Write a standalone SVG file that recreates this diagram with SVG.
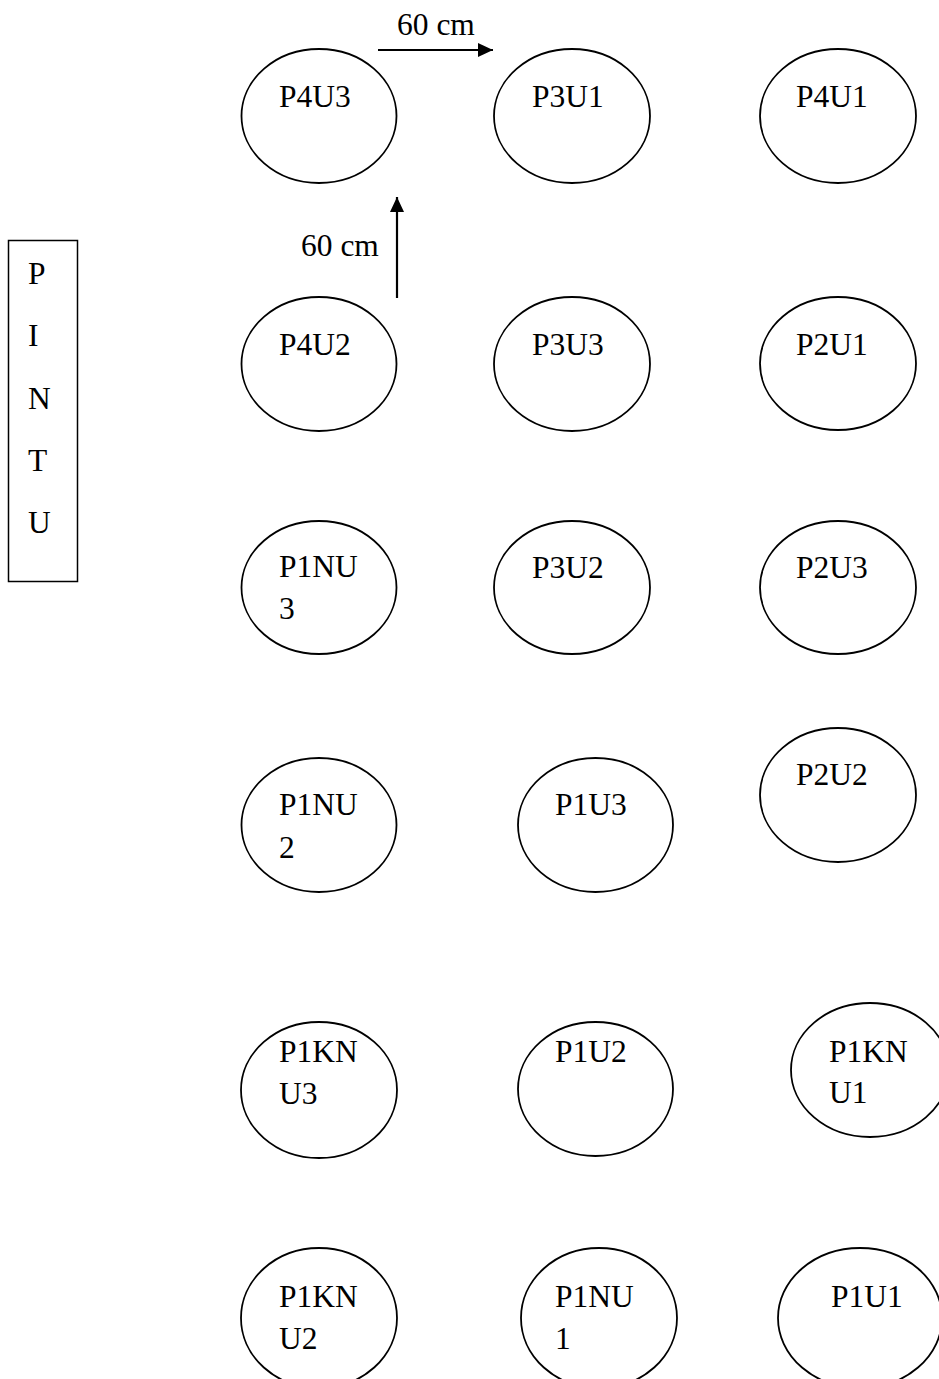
<svg xmlns="http://www.w3.org/2000/svg" width="939" height="1379" viewBox="0 0 939 1379">
<defs>
<style>
.n{fill:#fff;stroke:#000;stroke-width:1.8}
.t{font-family:"Liberation Serif","Times New Roman",serif;font-size:31.5px;fill:#000}
.c{stroke:#000;stroke-width:2.2;fill:none}
</style>
<marker id="ah" viewBox="0 0 15 14" refX="15" refY="7" markerWidth="15" markerHeight="14" markerUnits="userSpaceOnUse" orient="auto">
<path d="M0,0 L15,7 L0,14 Z" fill="#000"/>
</marker>
</defs>
<rect width="939" height="1379" fill="#fff"/>
<g id="pintu">
<rect x="8.5" y="240.5" width="69" height="341" fill="#fff" stroke="#000" stroke-width="1.5"/>
<text class="t" x="28" y="284">P</text>
<text class="t" x="28" y="346">I</text>
<text class="t" x="28" y="409">N</text>
<text class="t" x="28" y="471">T</text>
<text class="t" x="28" y="533">U</text>
</g>
<g id="P4U3"><ellipse class="n" cx="319" cy="116" rx="77.5" ry="67"/><text class="t" x="279" y="107">P4U3</text></g>
<g id="P3U1"><ellipse class="n" cx="572" cy="116" rx="78" ry="67"/><text class="t" x="532" y="107">P3U1</text></g>
<g id="P4U1"><ellipse class="n" cx="838" cy="116" rx="78" ry="67"/><text class="t" x="796" y="107">P4U1</text></g>
<g id="P4U2"><ellipse class="n" cx="319" cy="364" rx="77.5" ry="67"/><text class="t" x="279" y="355">P4U2</text></g>
<g id="P3U3"><ellipse class="n" cx="572" cy="364" rx="78" ry="67"/><text class="t" x="532" y="355">P3U3</text></g>
<g id="P2U1"><ellipse class="n" cx="838" cy="363.5" rx="78" ry="66.5"/><text class="t" x="796" y="355">P2U1</text></g>
<g id="P1NU3"><ellipse class="n" cx="319" cy="587.5" rx="77.5" ry="66.5"/><text class="t" x="279" y="577">P1NU</text><text class="t" x="279" y="619">3</text></g>
<g id="P3U2"><ellipse class="n" cx="572" cy="587.5" rx="78" ry="66.5"/><text class="t" x="532" y="578">P3U2</text></g>
<g id="P2U3"><ellipse class="n" cx="838" cy="587.5" rx="78" ry="66.5"/><text class="t" x="796" y="578">P2U3</text></g>
<g id="P1NU2"><ellipse class="n" cx="319" cy="825" rx="77.5" ry="67"/><text class="t" x="279" y="815">P1NU</text><text class="t" x="279" y="858">2</text></g>
<g id="P1U3"><ellipse class="n" cx="595.5" cy="825" rx="77.5" ry="67"/><text class="t" x="555" y="815">P1U3</text></g>
<g id="P2U2"><ellipse class="n" cx="838" cy="795" rx="78" ry="67"/><text class="t" x="796" y="785">P2U2</text></g>
<g id="P1KNU3"><ellipse class="n" cx="319" cy="1090" rx="78" ry="68"/><text class="t" x="279" y="1062">P1KN</text><text class="t" x="279" y="1104">U3</text></g>
<g id="P1U2"><ellipse class="n" cx="595.5" cy="1089" rx="77.5" ry="67"/><text class="t" x="555" y="1062">P1U2</text></g>
<g id="P1KNU1"><ellipse class="n" cx="870" cy="1070" rx="79" ry="67"/><text class="t" x="829" y="1062">P1KN</text><text class="t" x="829" y="1103">U1</text></g>
<g id="P1KNU2"><ellipse class="n" cx="319" cy="1318" rx="78" ry="70"/><text class="t" x="279" y="1307">P1KN</text><text class="t" x="279" y="1349">U2</text></g>
<g id="P1NU1"><ellipse class="n" cx="599" cy="1318" rx="78" ry="70"/><text class="t" x="555" y="1307">P1NU</text><text class="t" x="555" y="1349">1</text></g>
<g id="P1U1"><ellipse class="n" cx="860" cy="1318" rx="82" ry="70"/><text class="t" x="831" y="1307">P1U1</text></g>
<g id="connectors">
<line class="c" x1="378" y1="50" x2="493" y2="50" marker-end="url(#ah)"/>
<text class="t" x="397" y="35">60 cm</text>
<line class="c" x1="397" y1="298" x2="397" y2="197" marker-end="url(#ah)"/>
<text class="t" x="301" y="256">60 cm</text>
</g>
</svg>
